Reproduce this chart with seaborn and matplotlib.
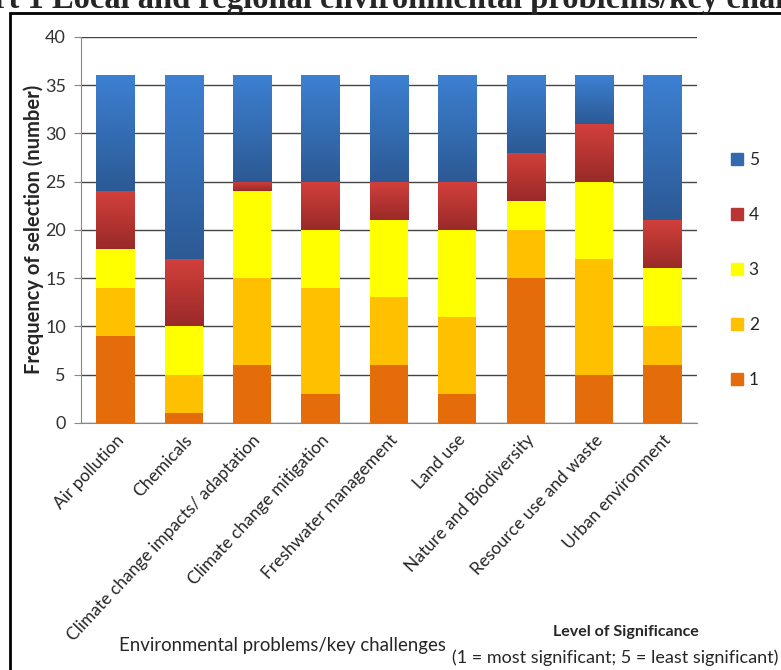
import numpy as np
import matplotlib
matplotlib.use('Agg')
import matplotlib.pyplot as plt
import seaborn as sns
from matplotlib.patches import Rectangle
from matplotlib.lines import Line2D

# Environmental problems on the x axis
problems = ['Air pollution', 'Chemicals', 'Climate change impacts/ adaptation',
            'Climate change mitigation', 'Freshwater management', 'Land use',
            'Nature and Biodiversity', 'Resource use and waste', 'Urban environment']

# number of selections per level of significance
level1 = [9, 1, 6, 3, 6, 3, 15, 5, 6]
level2 = [5, 4, 9, 11, 7, 8, 5, 12, 4]
level3 = [4, 5, 9, 6, 8, 9, 3, 8, 6]
level4 = [6, 7, 1, 5, 4, 5, 5, 6, 5]
level5 = [12, 19, 11, 11, 11, 11, 8, 5, 15]

levels = ['1', '2', '3', '4', '5']
series = [level1, level2, level3, level4, level5]
colors = ['#E46C0A', '#FFC000', '#FFFF00', '#B83533', '#3469B0']
# top / bottom shades for the gradient bars (levels 4 and 5)
gradients = {'4': ('#D2403C', '#9A2A28'), '5': ('#3D80D2', '#2C5A95')}

sns.set_style('white')
plt.rcParams['font.family'] = ['Lato', 'DejaVu Sans']

fig = plt.figure(figsize=(7.81, 6.70), dpi=100)
ax = fig.add_axes([0.104, 0.369, 0.788, 0.576])

# stacked bars, one seaborn barplot per level with the running total as bottom
bottom = np.zeros(len(problems))
bar_groups = []
for lvl, vals, col in zip(levels, series, colors):
    n_before = len(ax.patches)
    sns.barplot(x=problems, y=vals, bottom=bottom, color=col, width=0.56,
                errorbar=None, saturation=1, ax=ax, zorder=3, linewidth=0)
    bar_groups.append((lvl, ax.patches[n_before:]))
    bottom = bottom + np.array(vals)

# vertical gradient on the red and blue bars
for lvl, patches in bar_groups:
    if lvl not in gradients:
        continue
    cmap = matplotlib.colors.LinearSegmentedColormap.from_list('g', [gradients[lvl][1], gradients[lvl][0]])
    grad = np.linspace(0, 1, 64).reshape(-1, 1)
    for p in patches:
        x0, y0 = p.get_x(), p.get_y()
        im = ax.imshow(grad, cmap=cmap, origin='lower', aspect='auto', zorder=4,
                       extent=[x0, x0 + p.get_width(), y0, y0 + p.get_height()])
        im.set_clip_path(p)
ax.set_xlim(-0.5, len(problems) - 0.5)
ax.set_ylim(0, 40)

ax.set_yticks(range(0, 41, 5))
ax.yaxis.grid(True, color='#444444', linewidth=1)
ax.set_axisbelow(True)
for s in ['top', 'right']:
    ax.spines[s].set_visible(False)
ax.spines['left'].set_color('#888888')
ax.spines['bottom'].set_color('#888888')
ax.tick_params(axis='y', left=True, length=5, color='#888888', labelsize=13, pad=6,
               labelcolor='#333333')
ax.tick_params(axis='x', bottom=False, labelsize=12.5, pad=3)
ax.set_xticks(range(len(problems)))
ax.set_xticklabels(problems, rotation=47, ha='right', rotation_mode='anchor')
ax.set_ylabel('Frequency of selection (number)', fontsize=14.5, fontweight='bold', labelpad=1)
ax.set_xlabel('')

# legend, 5 on top down to 1
handles = [Line2D([], [], marker='s', linestyle='', markersize=8, color=c)
           for c in colors[::-1]]
fig.legend(handles, levels[::-1], loc='upper left', bbox_to_anchor=(0.912, 0.797),
           frameon=False, fontsize=12.5, labelspacing=2.25, handletextpad=0.2,
           handlelength=1.0)

fig.text(0.361, 0.037, 'Environmental problems/key challenges', fontsize=13.4,
         ha='center', va='center')
fig.text(0.802, 0.057, 'Level of Significance', fontsize=11.5, fontweight='bold',
         ha='center', va='center')
fig.text(0.788, 0.019, '(1 = most significant; 5 = least significant)', fontsize=13,
         ha='center', va='center')

# clipped report caption and the frame around the chart
fig.text(-0.082, 1 - 8 / 670, 'Chart 1 Local and regional environmental problems/key challenges',
         fontsize=23.5, fontweight='bold', family='Liberation Serif', va='baseline', ha='left')
fig.patches.append(Rectangle((10 / 781, -0.05), 1.0, 1.05 - 13 / 670, fill=False,
                             edgecolor='black', linewidth=2, transform=fig.transFigure,
                             figure=fig))

fig.savefig('out.png', dpi=100)
